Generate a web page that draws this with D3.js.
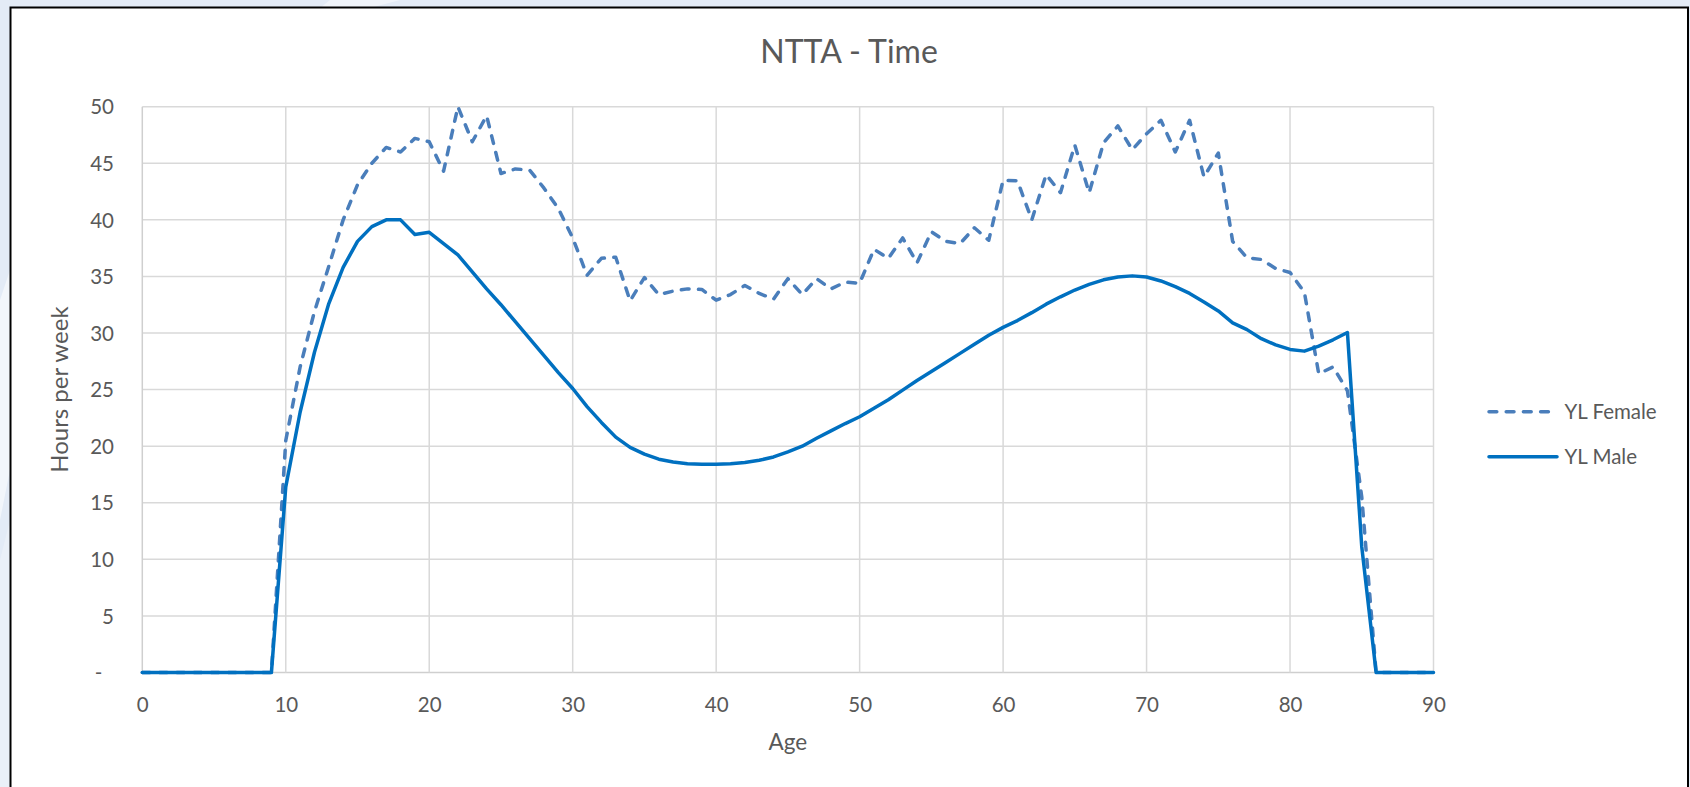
<!DOCTYPE html>
<html>
<head>
<meta charset="utf-8">
<script src="https://cdn.jsdelivr.net/npm/d3@7"></script>
<style>
  html, body { margin: 0; padding: 0; background: #e4ecf6; overflow: hidden; }
  svg { display: block; }
  text { font-family: Lato, "Open Sans", sans-serif; fill: #595959; }
</style>
</head>
<body>
<svg id="chart" width="1690" height="787"></svg>
<script>
// Age in years (x categories)
const ages = [0,1,2,3,4,5,6,7,8,9,10,11,12,13,14,15,16,17,18,19,20,21,22,23,24,25,26,27,28,29,
  30,31,32,33,34,35,36,37,38,39,40,41,42,43,44,45,46,47,48,49,50,51,52,53,54,55,56,57,58,59,
  60,61,62,63,64,65,66,67,68,69,70,71,72,73,74,75,76,77,78,79,80,81,82,83,84,85,86,87,88,89,90];

// Hours per week, female young-life profile
const ylFemale = [0,0,0,0,0,0,0,0,0,0,
  20.5,27.0,31.9,35.9,40.0,43.1,45.0,46.4,46.0,47.2,
  46.9,44.3,50.0,46.9,49.2,44.1,44.5,44.4,42.8,41.0,
  38.4,35.1,36.6,36.7,32.85,34.9,33.4,33.7,33.9,33.85,
  32.9,33.4,34.2,33.5,33.0,34.8,33.4,34.8,33.9,34.5,
  34.4,37.4,36.6,38.4,36.2,38.95,38.1,37.9,39.3,38.2,
  43.5,43.45,40.0,44.0,42.4,46.6,42.4,46.8,48.3,46.2,
  47.6,48.8,46.0,48.8,43.8,45.9,38.1,36.65,36.5,35.7,
  35.35,33.6,26.4,27.0,24.9,15.5,0,0,0,0,0];

// Hours per week, male young-life profile
const ylMale = [0,0,0,0,0,0,0,0,0,0,
  16.4,23.0,28.3,32.6,35.8,38.1,39.4,40.0,40.0,38.7,
  38.9,37.9,36.9,35.4,33.9,32.5,31.0,29.5,28.0,26.5,
  25.1,23.5,22.1,20.8,19.9,19.3,18.85,18.6,18.45,18.4,
  18.4,18.45,18.55,18.75,19.05,19.5,20.0,20.7,21.35,22.0,
  22.6,23.35,24.1,24.95,25.8,26.6,27.4,28.2,29.0,29.8,
  30.5,31.1,31.8,32.55,33.2,33.8,34.3,34.7,34.95,35.05,
  34.95,34.6,34.1,33.5,32.75,31.95,30.9,30.3,29.5,28.95,
  28.55,28.4,28.85,29.4,30.05,11.1,0,0,0,0,0];

const xTicks = [0,10,20,30,40,50,60,70,80,90];
const yTicks = [0,5,10,15,20,25,30,35,40,45,50];

const seriesNames = ["YL Female", "YL Male"];
const seriesColors = ["#4a7ebb", "#0070c0"];

const svg = d3.select("#chart");
const W = 1690, H = 787;

// Slide-style backdrop around the chart frame
const bg = svg.append("g");
bg.append("rect").attr("width", W).attr("height", H).attr("fill", "#e3ebf6");
bg.append("path").attr("d", "M330,0 L400,0 L370,8 L320,8 Z").attr("fill", "#f0f4fa");
bg.append("path").attr("d", "M0,300 L10,270 L10,470 L0,520 Z").attr("fill", "#f2f6fb");
bg.append("path").attr("d", "M0,560 L10,520 L10,787 L0,787 Z").attr("fill", "#eaf0f8");

// Chart area frame
svg.append("rect")
  .attr("x", 10.5).attr("y", 7.5)
  .attr("width", 1677.5).attr("height", 820)
  .attr("fill", "#ffffff")
  .attr("stroke", "#000000")
  .attr("stroke-width", 2);

const plot = { left: 142.3, right: 1433.5, top: 106.7, bottom: 672.5 };

const x = d3.scaleLinear().domain([0, 90]).range([plot.left, plot.right]);
const y = d3.scaleLinear().domain([0, 50]).range([plot.bottom, plot.top]);

// Gridlines
const grid = svg.append("g");
grid.selectAll("line.h").data(yTicks).join("line")
  .attr("class", "h")
  .attr("x1", plot.left).attr("x2", plot.right)
  .attr("y1", d => y(d)).attr("y2", d => y(d))
  .attr("stroke", d => d === 0 ? "#cfcfcf" : "#d9d9d9")
  .attr("stroke-width", 1.5);
grid.selectAll("line.v").data(xTicks).join("line")
  .attr("class", "v")
  .attr("y1", plot.top).attr("y2", plot.bottom)
  .attr("x1", d => x(d)).attr("x2", d => x(d))
  .attr("stroke", d => d === 0 ? "#cfcfcf" : "#d9d9d9")
  .attr("stroke-width", 1.5);

// Axes (labels only; lines come from the grid)
const xAxis = d3.axisBottom(x).tickValues(xTicks).tickSize(0).tickPadding(0).tickFormat(d3.format("d"));
const gx = svg.append("g").attr("transform", `translate(0,${plot.bottom})`).call(xAxis);
gx.select(".domain").remove();
gx.selectAll("text")
  .attr("y", 39).attr("dy", null)
  .style("font-family", "Lato, sans-serif")
  .style("font-size", "20.5px")
  .attr("fill", "#595959");

const yAxis = d3.axisLeft(y).tickValues(yTicks).tickSize(0).tickPadding(0)
  .tickFormat(d => d === 0 ? "-" : d3.format("d")(d));
const gy = svg.append("g").attr("transform", `translate(${plot.left},0)`).call(yAxis);
gy.select(".domain").remove();
gy.selectAll("text")
  .attr("x", d => d === 0 ? -40 : -28.3)
  .attr("dy", "0.35em")
  .style("font-family", "Lato, sans-serif")
  .style("font-size", "20.5px")
  .attr("fill", "#595959");

// Series lines
const line = d3.line().x((d, i) => x(ages[i])).y(d => y(d));

svg.append("path")
  .datum(ylFemale)
  .attr("d", line)
  .attr("fill", "none")
  .attr("stroke", seriesColors[0])
  .attr("stroke-width", 3.5)
  .attr("stroke-linejoin", "round")
  .attr("stroke-linecap", "round")
  .attr("stroke-dasharray", "7.8,9.4");

svg.append("path")
  .datum(ylMale)
  .attr("d", line)
  .attr("fill", "none")
  .attr("stroke", seriesColors[1])
  .attr("stroke-width", 3.5)
  .attr("stroke-linejoin", "round")
  .attr("stroke-linecap", "round");

// Title
svg.append("text")
  .attr("x", 849).attr("y", 62.5)
  .attr("text-anchor", "middle")
  .style("font-size", "32px")
  .text("NTTA - Time");

// Axis titles
svg.append("text")
  .attr("x", (plot.left + plot.right) / 2).attr("y", 749.5)
  .attr("text-anchor", "middle")
  .style("font-size", "22.5px")
  .text("Age");

svg.append("text")
  .attr("transform", `translate(68,${(plot.top + plot.bottom) / 2}) rotate(-90)`)
  .attr("text-anchor", "middle")
  .style("font-size", "24px")
  .text("Hours per week");

// Legend
const legend = svg.append("g");
const legendY = [411.7, 456.7];
seriesNames.forEach((name, i) => {
  legend.append("line")
    .attr("x1", 1489).attr("x2", 1557)
    .attr("y1", legendY[i]).attr("y2", legendY[i])
    .attr("stroke", seriesColors[i])
    .attr("stroke-width", 3.5)
    .attr("stroke-linecap", "round")
    .attr("stroke-dasharray", i === 0 ? "7.8,9.4" : null);
  legend.append("text")
    .attr("x", 1564.5).attr("y", legendY[i])
    .attr("dy", "0.36em")
    .style("font-size", "20.5px")
    .text(name);
});
</script>
</body>
</html>
